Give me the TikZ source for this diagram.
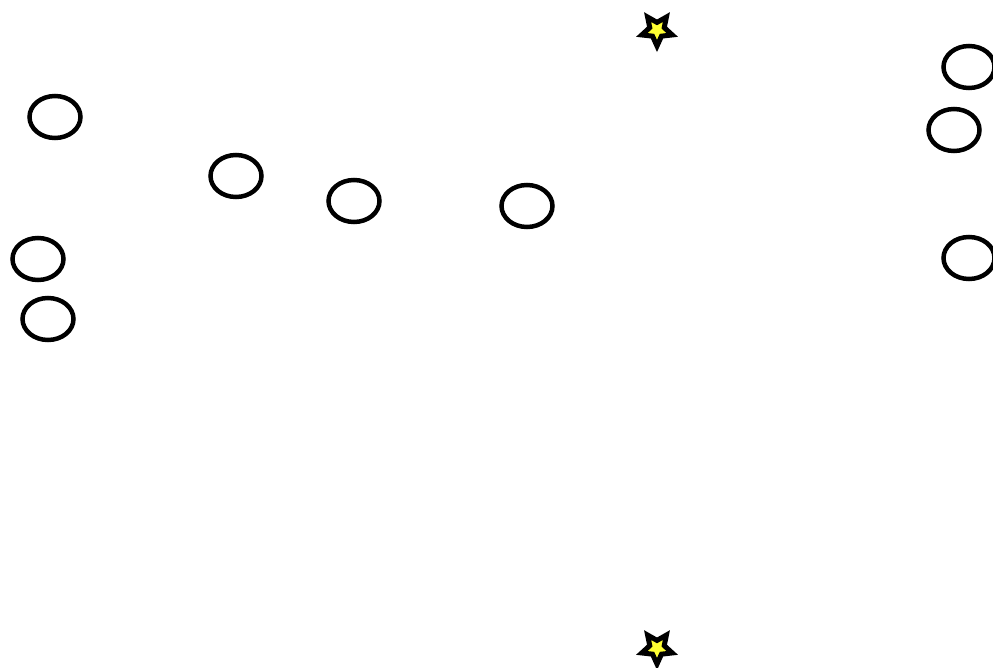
\documentclass[tikz,border=0pt]{standalone}
\usetikzlibrary{shapes.geometric}
\definecolor{staryellow}{RGB}{255,255,50}
\begin{document}
\begin{tikzpicture}[x=1pt,y=-1pt,
  ring/.style={draw=black, line width=4.5pt, ellipse, minimum width=51pt, minimum height=42pt, inner sep=0pt},
  starmark/.style={draw=black, fill=staryellow, line width=5pt, star, star points=5, star point ratio=2.1, shape border rotate=180, minimum size=32pt, inner sep=0pt, miter limit=4}]
\useasboundingbox (0,0) rectangle (993,668);
\node[ring] (e1) at (55,117) {};
\node[ring] (e2) at (236,176) {};
\node[ring] (e3) at (354,201) {};
\node[ring] (e4) at (527,206) {};
\node[ring] (e5) at (38,259) {};
\node[ring] (e6) at (48,319) {};
\node[ring] (e7) at (969,67) {};
\node[ring] (e8) at (954,130) {};
\node[ring] (e9) at (969,258) {};
\node[starmark] (s1) at (657,30) {};
\node[starmark] (s2) at (657,648) {};
\end{tikzpicture}
\end{document}
